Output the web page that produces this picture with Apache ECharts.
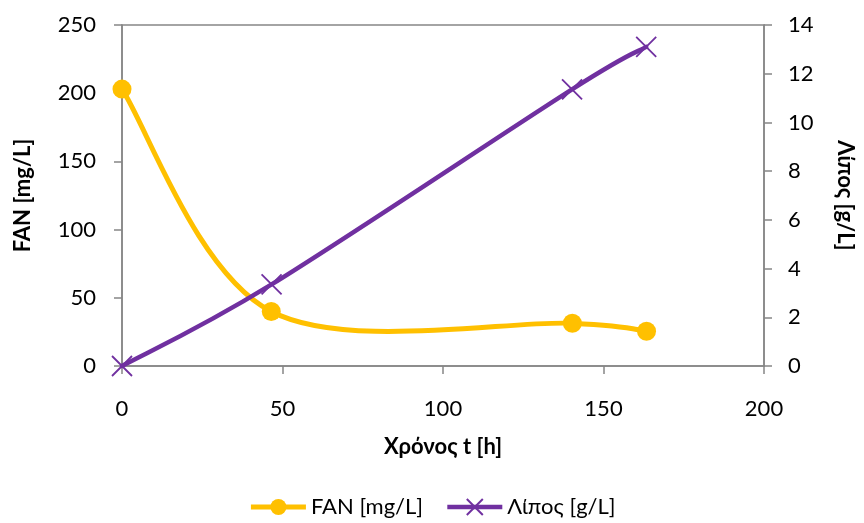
<!DOCTYPE html>
<html>
<head>
<meta charset="utf-8">
<script src="https://cdn.jsdelivr.net/npm/echarts@6/dist/echarts.min.js"></script>
<style>html,body{margin:0;padding:0;background:#fff}#c{width:864px;height:523px}</style>
</head>
<body>
<div id="c"></div>
<script>
// Data
var fanTime = [0, 46.5, 140.3, 163.4];
var fanValues = [203, 40, 31.3, 25.5];
var liposTime = [0, 46.6, 140.2, 163.3];
var liposValues = [0, 3.35, 11.36, 13.1];
var xTicks = [0, 50, 100, 150, 200];
var leftTicks = [0, 50, 100, 150, 200, 250];
var rightTicks = [0, 2, 4, 6, 8, 10, 12, 14];

var FONT = 'Lato';
var FS = 22;
var axisGrey = '#868686';
var FAN_COLOR = '#FFC000';
var LIP_COLOR = '#7030A0';

function pairs(xs, ys) { return xs.map(function (x, i) { return [x, ys[i]]; }); }

// Excel-style smoothed path (Bezier with control offsets of 1/6 of neighbour span), in pixel space
function smoothPathRender(xs, ys, color, width) {
  return function (params, api) {
    if (params.dataIndex !== 0) return null;
    var p = xs.map(function (x, i) { return api.coord([x, ys[i]]); });
    var n = p.length;
    var d = 'M' + p[0][0] + ' ' + p[0][1];
    for (var i = 0; i < n - 1; i++) {
      var a = p[Math.max(i - 1, 0)], b = p[i], c = p[i + 1], e = p[Math.min(i + 2, n - 1)];
      var c1x = b[0] + (c[0] - a[0]) / 6, c1y = b[1] + (c[1] - a[1]) / 6;
      var c2x = c[0] - (e[0] - b[0]) / 6, c2y = c[1] - (e[1] - b[1]) / 6;
      d += ' C' + c1x + ' ' + c1y + ' ' + c2x + ' ' + c2y + ' ' + c[0] + ' ' + c[1];
    }
    return {
      type: 'path',
      shape: { pathData: d },
      style: { fill: 'none', stroke: color, lineWidth: width, lineJoin: 'round', lineCap: 'round' }
    };
  };
}

var chart = echarts.init(document.getElementById('c'), null, { renderer: 'canvas' });
chart.setOption({
  animation: false,
  textStyle: { fontFamily: FONT },
  grid: { left: 122, top: 25, right: 99, bottom: 157, show: true, borderColor: axisGrey, borderWidth: 1.5 },
  legend: {
    bottom: 0, left: 'center', itemWidth: 55, itemHeight: 20, itemGap: 22,
    textStyle: { fontFamily: FONT, fontSize: FS, color: '#000' },
    data: [
      { name: 'FAN [mg/L]', lineStyle: { color: FAN_COLOR, width: 5, opacity: 1 } },
      { name: 'Λίπος [g/L]', lineStyle: { color: LIP_COLOR, width: 4.5, opacity: 1 } }
    ]
  },
  xAxis: {
    type: 'value', min: xTicks[0], max: xTicks[xTicks.length - 1], interval: 50,
    name: 'Χρόνος t [h]', nameLocation: 'middle', nameGap: 70,
    nameTextStyle: { fontFamily: FONT, fontSize: FS, fontWeight: 'bold', color: '#000' },
    axisLine: { lineStyle: { color: axisGrey, width: 1.5 } },
    axisTick: { show: true, length: 8, inside: false, lineStyle: { color: axisGrey, width: 1.5 } },
    axisLabel: { fontFamily: FONT, fontSize: FS, color: '#000', margin: 32 },
    splitLine: { show: false }
  },
  yAxis: [{
    type: 'value', min: leftTicks[0], max: leftTicks[leftTicks.length - 1], interval: 50, position: 'left',
    name: 'FAN [mg/L]', nameLocation: 'middle', nameGap: 88, nameRotate: 90,
    nameTextStyle: { fontFamily: FONT, fontSize: FS, fontWeight: 'bold', color: '#000' },
    axisLine: { show: true, lineStyle: { color: axisGrey, width: 1.5 } },
    axisTick: { show: true, length: 8, lineStyle: { color: axisGrey, width: 1.5 } },
    axisLabel: { fontFamily: FONT, fontSize: FS, color: '#000', margin: 26 },
    splitLine: { show: false }
  }, {
    type: 'value', min: rightTicks[0], max: rightTicks[rightTicks.length - 1], interval: 2, position: 'right',
    name: 'Λίπος [g/L]', nameLocation: 'middle', nameGap: 70, nameRotate: -90,
    nameTextStyle: { fontFamily: FONT, fontSize: FS, fontWeight: 'bold', color: '#000' },
    axisLine: { show: true, lineStyle: { color: axisGrey, width: 1.5 } },
    axisTick: { show: true, length: 8, lineStyle: { color: axisGrey, width: 1.5 } },
    axisLabel: { fontFamily: FONT, fontSize: FS, color: '#000', margin: 24 },
    splitLine: { show: false }
  }],
  series: [{
    name: 'FAN curve', type: 'custom', yAxisIndex: 0, z: 1,
    data: pairs(fanTime, fanValues),
    renderItem: smoothPathRender(fanTime, fanValues, FAN_COLOR, 5),
    silent: true
  }, {
    name: 'Lipos curve', type: 'custom', yAxisIndex: 1, z: 2,
    data: pairs(liposTime, liposValues),
    renderItem: smoothPathRender(liposTime, liposValues, LIP_COLOR, 4.5),
    silent: true
  }, {
    name: 'FAN [mg/L]', type: 'line', yAxisIndex: 0, z: 3,
    data: pairs(fanTime, fanValues),
    symbol: 'circle', symbolSize: 19,
    lineStyle: { color: FAN_COLOR, width: 5, opacity: 0 },
    itemStyle: { color: FAN_COLOR }
  }, {
    name: 'Λίπος [g/L]', type: 'line', yAxisIndex: 1, z: 4,
    data: pairs(liposTime, liposValues),
    symbol: 'path://M0 0L10 10M10 0L0 10', symbolSize: 20,
    lineStyle: { color: LIP_COLOR, width: 4.5, opacity: 0 },
    itemStyle: { color: LIP_COLOR, borderColor: LIP_COLOR, borderWidth: 1.8 }
  }]
});
</script>
</body>
</html>
